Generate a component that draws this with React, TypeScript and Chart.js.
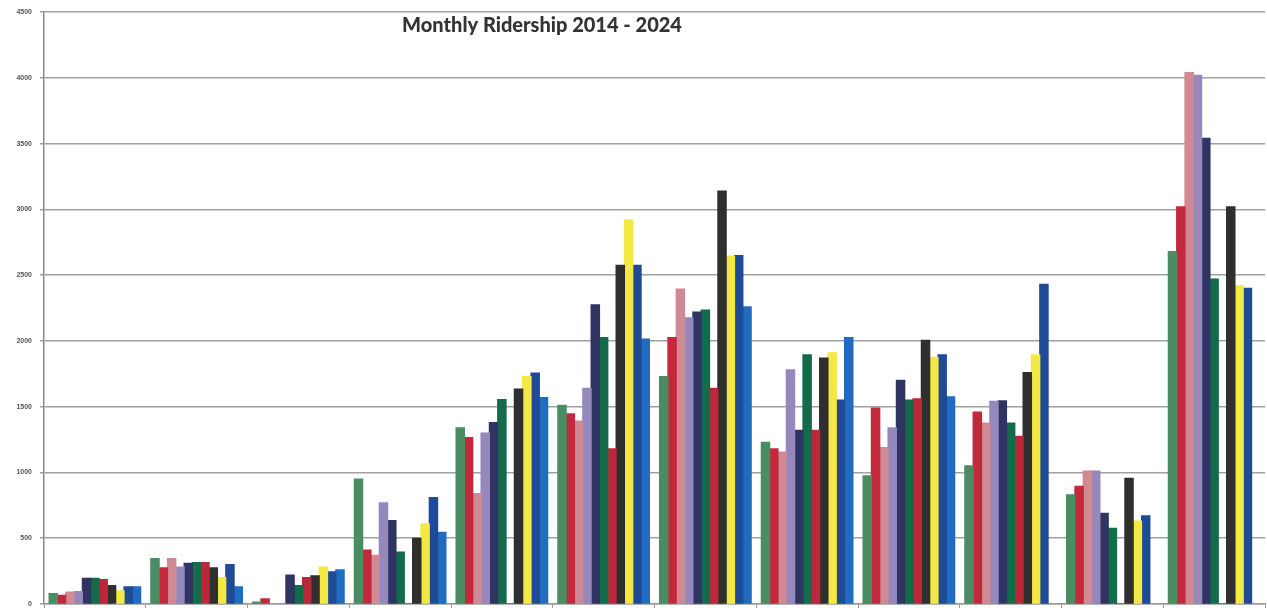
import React, { useEffect, useRef } from "react";
import { Chart, registerables } from "chart.js";

Chart.register(...registerables);

const months = ["January", "February", "March", "April", "May", "June", "July", "August", "September", "October", "November", "December"];
const years = ["2014", "2015", "2016", "2017", "2018", "2019", "2020", "2021", "2022", "2023", "2024"];

const y2014 = [80, 345, 15, 950, 1340, 1510, 1730, 1230, 975, 1050, 830, 2680];
const y2015 = [65, 275, 40, 410, 1265, 1445, 2025, 1180, 1490, 1460, 895, 3020];
const y2016 = [90, 345, 0, 370, 840, 1390, 2395, 1155, 1190, 1375, 1010, 4040];
const y2017 = [95, 280, 0, 770, 1300, 1640, 2175, 1780, 1340, 1540, 1010, 4020];
const y2018 = [195, 310, 220, 635, 1380, 2275, 2220, 1320, 1700, 1545, 690, 3540];
const y2019 = [195, 315, 140, 395, 1555, 2025, 2235, 1895, 1550, 1375, 575, 2470];
const y2020 = [185, 315, 200, 0, 0, 1180, 1640, 1320, 1560, 1275, 0, 0];
const y2021 = [140, 275, 215, 500, 1635, 2575, 3140, 1870, 2005, 1760, 955, 3020];
const y2022 = [100, 200, 280, 610, 1730, 2920, 2645, 1910, 1875, 1895, 630, 2420];
const y2023 = [130, 300, 245, 810, 1755, 2575, 2650, 1550, 1895, 2430, 670, 2400];
const y2024 = [130, 130, 260, 545, 1570, 2015, 2260, 2025, 1575, null, null, null];

const seriesValues = [y2014, y2015, y2016, y2017, y2018, y2019, y2020, y2021, y2022, y2023, y2024];
const seriesColors = [
  "#4a8d62", "#c4283c", "#cf8a94", "#9488bd", "#2f3462", "#136b4a",
  "#bb283a", "#2f2f2f", "#f4e842", "#1e4a96", "#1f6cc0",
];

const titleText = "Monthly Ridership 2014 - 2024";

export default function App() {
  const ref = useRef<HTMLCanvasElement | null>(null);

  useEffect(() => {
    if (!ref.current) return;
    const titlePlugin = {
      id: "overlayTitle",
      afterDraw(chart: any) {
        const ctx = chart.ctx;
        ctx.save();
        ctx.font = "900 20px Lato";
        ctx.fillStyle = "#333333";
        ctx.textAlign = "center";
        ctx.textBaseline = "middle";
        ctx.fillText(titleText, 542, 26);
        ctx.restore();
      },
    };
    const chart = new Chart(ref.current, {
      type: "bar",
      data: {
        labels: months,
        datasets: years.map((y, i) => ({
          label: y,
          data: seriesValues[i],
          backgroundColor: seriesColors[i],
          borderWidth: 0,
          inflateAmount: 0.6,
          categoryPercentage: 0.9,
          barPercentage: 1.0,
        })),
      },
      options: {
        animation: false,
        responsive: true,
        maintainAspectRatio: false,
        layout: { padding: { top: 9, left: 0, right: 2, bottom: 1 } },
        plugins: {
          legend: { display: false },
          title: { display: false },
          tooltip: { enabled: false },
        },
        scales: {
          x: {
            afterFit: (scale: any) => { scale.height = 20; },
            grid: { display: true, drawOnChartArea: false, tickLength: 4, color: "#999" },
            border: { color: "#999", width: 1.5 },
            ticks: { color: "#444", font: { size: 12, family: "Liberation Sans" }, padding: 0 },
          },
          y: {
            min: 0,
            max: 4500,
            afterFit: (scale: any) => { scale.width = 44; },
            ticks: {
              stepSize: 500,
              color: "#555",
              padding: 8,
              font: { size: 7, family: "Liberation Sans", weight: "bold" },
              callback: (v: any) => String(v),
            },
            grid: { color: "#a0a0a0", lineWidth: 1.5, tickLength: 4 },
            border: { color: "#8a8a8a", width: 1.5 },
          },
        },
      },
      plugins: [titlePlugin],
    });
    return () => chart.destroy();
  }, []);

  return (
    <div style={{ position: "fixed", left: 0, top: 0, width: 1267, height: 625, background: "#fff" }}>
      <canvas ref={ref} />
    </div>
  );
}
